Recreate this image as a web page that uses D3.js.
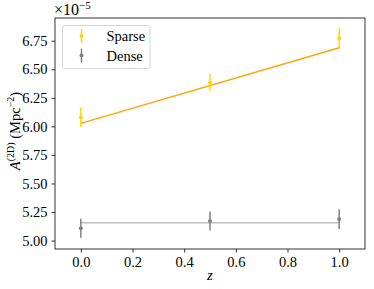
<!DOCTYPE html>
<html>
<head>
<meta charset="utf-8">
<script src="https://cdn.jsdelivr.net/npm/d3@7"></script>
<style>
  body { margin: 0; background: #fff; }
  svg text { font-family: "Liberation Serif", "DejaVu Serif", serif; fill: #000; }
</style>
</head>
<body>
<div id="chart"></div>
<script>
// data (values in units of 1e-5)
const zVals = [0, 0.5, 1.0];
const sparseVals = [6.079, 6.385, 6.771];
const sparseErr = [0.086, 0.076, 0.088];
const denseVals = [5.107, 5.171, 5.188];
const denseErr = [0.083, 0.083, 0.086];
const sparseFit = [6.026, 6.688]; // fit at z=0 and z=1
const denseFit = [5.156, 5.156];
const xTicks = [0, 0.2, 0.4, 0.6, 0.8, 1.0];
const yTicks = [5.00, 5.25, 5.50, 5.75, 6.00, 6.25, 6.50, 6.75];
const seriesNames = ["Sparse", "Dense"];

const W = 374, H = 289;
const margin = {left: 55, right: 9, top: 18, bottom: 40};
const fs = 14.5;

const svg = d3.select("#chart").append("svg")
  .attr("width", W).attr("height", H);

const x = d3.scaleLinear().domain([-0.1, 1.1]).range([margin.left, W - margin.right]);
const y = d3.scaleLinear().domain([4.926, 6.949]).range([H - margin.bottom, margin.top]);

// axes
const xAxis = svg.append("g")
  .attr("transform", "translate(0," + (H - margin.bottom) + ")")
  .call(d3.axisBottom(x).tickValues(xTicks).tickFormat(d3.format(".1f")).tickSize(3.5).tickPadding(4));
const yAxis = svg.append("g")
  .attr("transform", "translate(" + margin.left + ",0)")
  .call(d3.axisLeft(y).tickValues(yTicks).tickFormat(d3.format(".2f")).tickSize(3.5).tickPadding(4));
[xAxis, yAxis].forEach(g => {
  g.select(".domain").remove();
  g.selectAll("text").style("font-size", fs + "px").attr("fill", "#000");
  g.selectAll("line").attr("stroke", "#000").attr("stroke-width", 0.8);
});

// frame
svg.append("rect")
  .attr("x", margin.left).attr("y", margin.top)
  .attr("width", W - margin.left - margin.right)
  .attr("height", H - margin.top - margin.bottom)
  .attr("fill", "none").attr("stroke", "#000").attr("stroke-width", 0.8);

// fit lines
const line = d3.line().x(d => x(d[0])).y(d => y(d[1]));
svg.append("path")
  .attr("d", line([[0, sparseFit[0]], [1, sparseFit[1]]]))
  .attr("stroke", "orange").attr("stroke-width", 1.5).attr("fill", "none");
svg.append("path")
  .attr("d", line([[0, denseFit[0]], [1, denseFit[1]]]))
  .attr("stroke", "silver").attr("stroke-width", 1.5).attr("fill", "none");

// error bar points
function drawErr(vals, errs, color) {
  const g = svg.append("g");
  g.selectAll("line").data(zVals).enter().append("line")
    .attr("x1", d => x(d)).attr("x2", d => x(d))
    .attr("y1", (d, i) => y(vals[i] - errs[i]))
    .attr("y2", (d, i) => y(vals[i] + errs[i]))
    .attr("stroke", color).attr("stroke-width", 1.5);
  g.selectAll("circle").data(zVals).enter().append("circle")
    .attr("cx", d => x(d)).attr("cy", (d, i) => y(vals[i]))
    .attr("r", 2).attr("fill", color);
}
drawErr(sparseVals, sparseErr, "gold");
drawErr(denseVals, denseErr, "gray");

// legend
const leg = svg.append("g");
leg.append("rect")
  .attr("x", 62.5).attr("y", 25.5).attr("width", 87.5).attr("height", 43)
  .attr("rx", 2.5).attr("fill", "#fff").attr("fill-opacity", 0.8)
  .attr("stroke", "#ccc").attr("stroke-width", 0.8);
const legColors = ["gold", "gray"];
seriesNames.forEach((name, i) => {
  const cy = 36 + i * 19.5;
  leg.append("line").attr("x1", 81.5).attr("x2", 81.5)
    .attr("y1", cy - 7).attr("y2", cy + 7)
    .attr("stroke", legColors[i]).attr("stroke-width", 1.5);
  leg.append("circle").attr("cx", 81.5).attr("cy", cy).attr("r", 2).attr("fill", legColors[i]);
  leg.append("text").attr("x", 106.5).attr("y", cy + 5)
    .style("font-size", fs + "px").text(name);
});

// offset text
const off = svg.append("text").attr("x", 54).attr("y", 15).style("font-size", "16px");
off.append("tspan").text("×10");
off.append("tspan").attr("dy", -6).style("font-size", "11px").text("−5");

// axis labels
svg.append("text")
  .attr("x", x(0.5)).attr("y", 280)
  .attr("text-anchor", "middle")
  .style("font-size", "15px").style("font-style", "italic")
  .text("z");

const yl = svg.append("text")
  .attr("transform", "translate(20," + 131 + ") rotate(-90)")
  .attr("text-anchor", "middle")
  .style("font-size", fs + "px");
yl.append("tspan").style("font-style", "italic").text("A");
yl.append("tspan").attr("dy", -6).style("font-size", "10px").text("(2D)");
yl.append("tspan").attr("dy", 6).text(" (Mpc");
yl.append("tspan").attr("dy", -6).style("font-size", "10px").text("−2");
yl.append("tspan").attr("dy", 6).text(")");
</script>
</body>
</html>
